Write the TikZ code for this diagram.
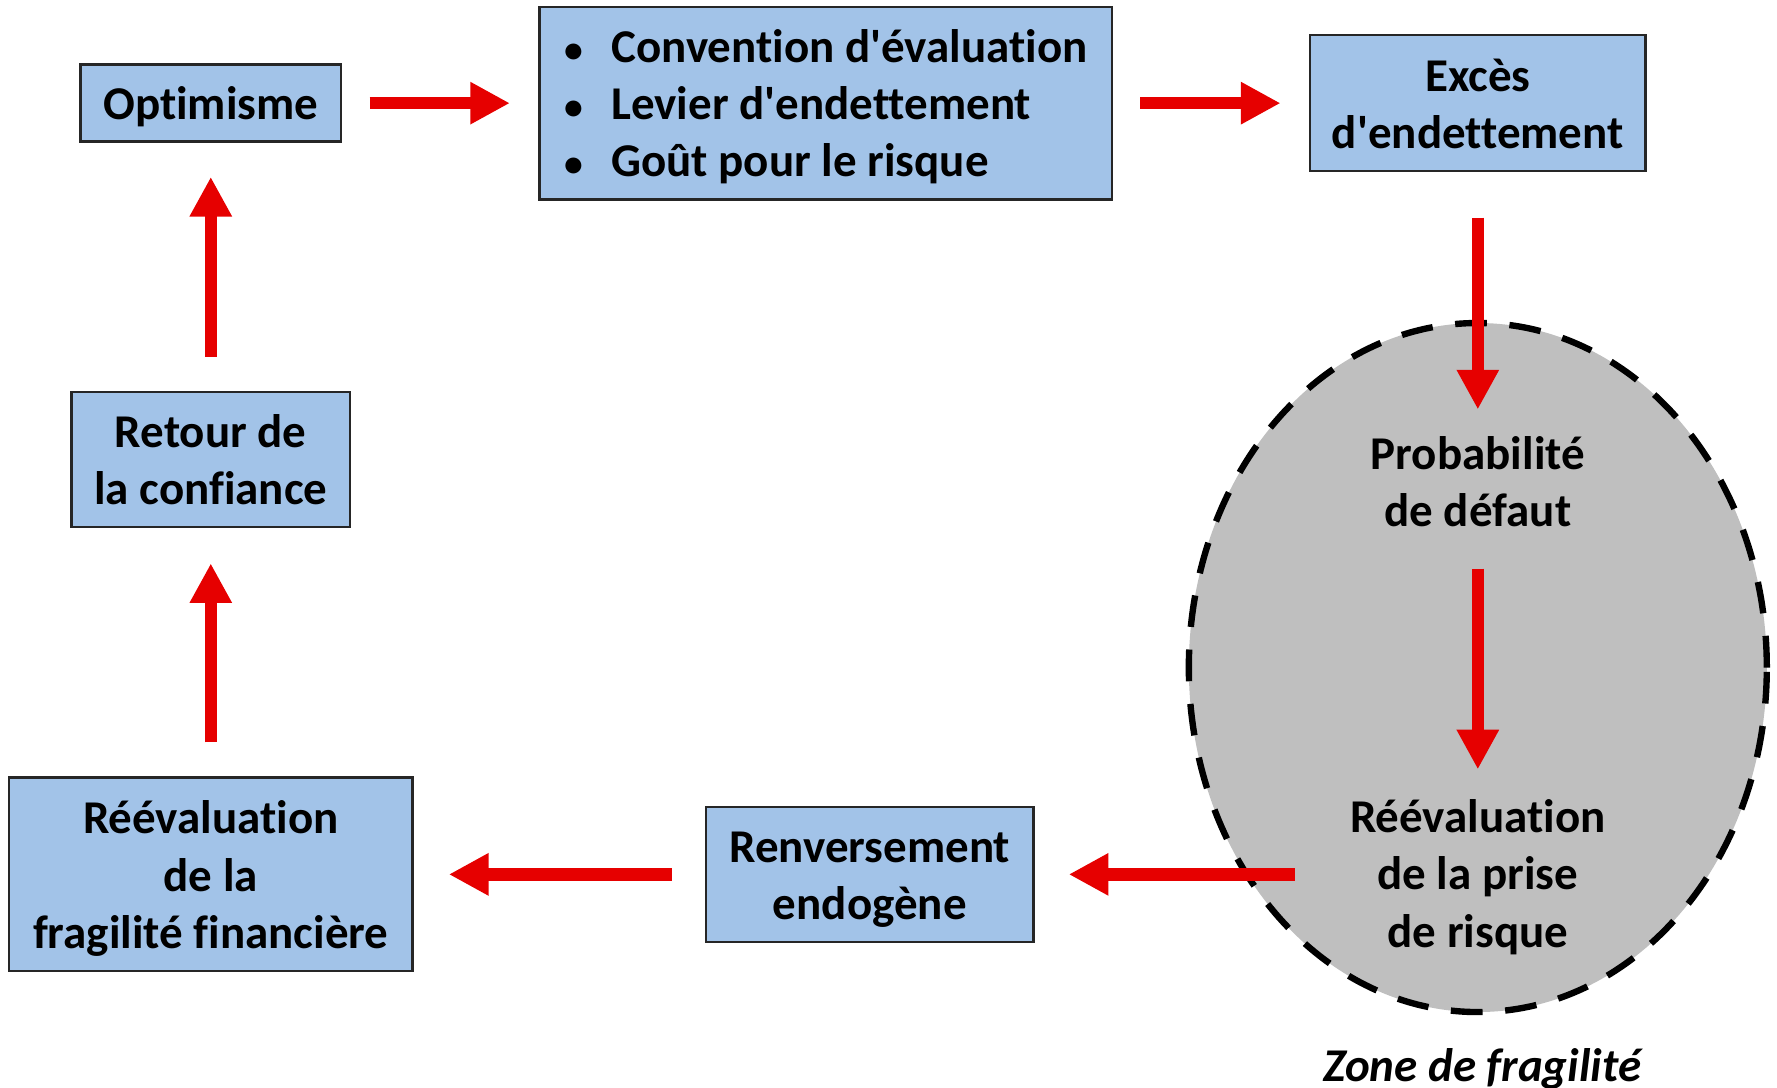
\documentclass[tikz,border=0pt]{standalone}
\usepackage{fontspec}
\setmainfont{Carlito}[Ligatures={TeX,NoCommon}]
\usetikzlibrary{arrows.meta,shapes.geometric}
\definecolor{boxblue}{RGB}{162,195,232}
\definecolor{arrowred}{RGB}{230,0,0}
\definecolor{zonegrey}{RGB}{191,191,191}
\newcommand{\apos}{\textquotesingle}
\newcommand{\puce}{\makebox[0.42cm][l]{\hspace{0.01cm}\scalebox{0.8}{\textbullet}}}
\newcommand{\lignestrut}{\rule[-2.8pt]{0pt}{14pt}}
\tikzset{
	txt/.style={align=center, inner sep=0pt, font=\fontsize{11.8}{14.4}\selectfont\bfseries},
	stage/.style={txt, draw=black!85, line width=0.6pt, fill=boxblue,
		execute at end node=\lignestrut},
	zonefill/.style={ellipse, fill=zonegrey, draw=black, line width=1.6pt,
		dash pattern=on 0.28cm off 0.20cm, inner sep=0pt},
	flow/.style={draw=arrowred, line width=3.1pt, -{Triangle[length=0.35cm,width=0.35cm]}}
}
\begin{document}
\begin{tikzpicture}
	\useasboundingbox (0,0) rectangle (15.68,-9.6);
	\node[zonefill, minimum width=5.10cm, minimum height=6.08cm] (zone) at (13.04,-5.89) {};
	\node[stage, minimum width=2.30cm, minimum height=0.68cm] (optim) at (1.86,-0.91)
		{\lignestrut Optimisme};
	\node[stage, minimum width=5.05cm, minimum height=1.70cm] (levers) at (7.285,-0.91)
		{\raisebox{-1.2pt}[\height][\depth]{\begin{tabular}{@{}l@{}}
			\puce Convention d\apos évaluation\\
			\puce Levier d\apos endettement\\
			\puce Goût pour le risque
		\end{tabular}}};
	\node[stage, minimum width=2.96cm, minimum height=1.20cm] (excess) at (13.04,-0.91)
		{\lignestrut Excès\\d\apos endettement};
	\node[txt] (proba) at (13.04,-4.25) {Probabilité\\de défaut};
	\node[txt] (reprise) at (13.04,-7.74) {Réévaluation\\de la prise\\de risque};
	\node[stage, minimum width=2.89cm, minimum height=1.19cm] (renvers) at (7.675,-7.715)
		{\lignestrut Renversement\\endogène};
	\node[stage, minimum width=3.56cm, minimum height=1.71cm] (revalfrag) at (1.86,-7.715)
		{\lignestrut Réévaluation\\de la\\fragilité financière};
	\node[stage, minimum width=2.46cm, minimum height=1.19cm] (retour) at (1.86,-4.055)
		{\lignestrut Retour de\\la confiance};
	\node[txt, font=\fontsize{11.8}{14.4}\selectfont\bfseries\itshape] (zonename) at (13.08,-9.43)
		{Zone de fragilité};

	\draw[flow, shorten <=0.24cm, shorten >=0.25cm] (optim) -- (levers);
	\draw[flow, shorten <=0.24cm, shorten >=0.25cm] (levers) -- (excess);
	\draw[flow, shorten <=0.40cm, shorten >=0.23cm] (excess) -- (proba);
	\draw[flow, shorten <=0.36cm, shorten >=0.26cm] (proba) -- (reprise);
	\draw[flow, shorten <=0.48cm, shorten >=0.30cm] (reprise.west |- renvers) -- (renvers);
	\draw[flow, shorten <=0.29cm, shorten >=0.31cm] (renvers) -- (revalfrag);
	\draw[flow, shorten <=0.30cm, shorten >=0.31cm] (revalfrag) -- (retour);
	\draw[flow, shorten <=0.30cm, shorten >=0.30cm] (retour) -- (optim);
\end{tikzpicture}
\end{document}
